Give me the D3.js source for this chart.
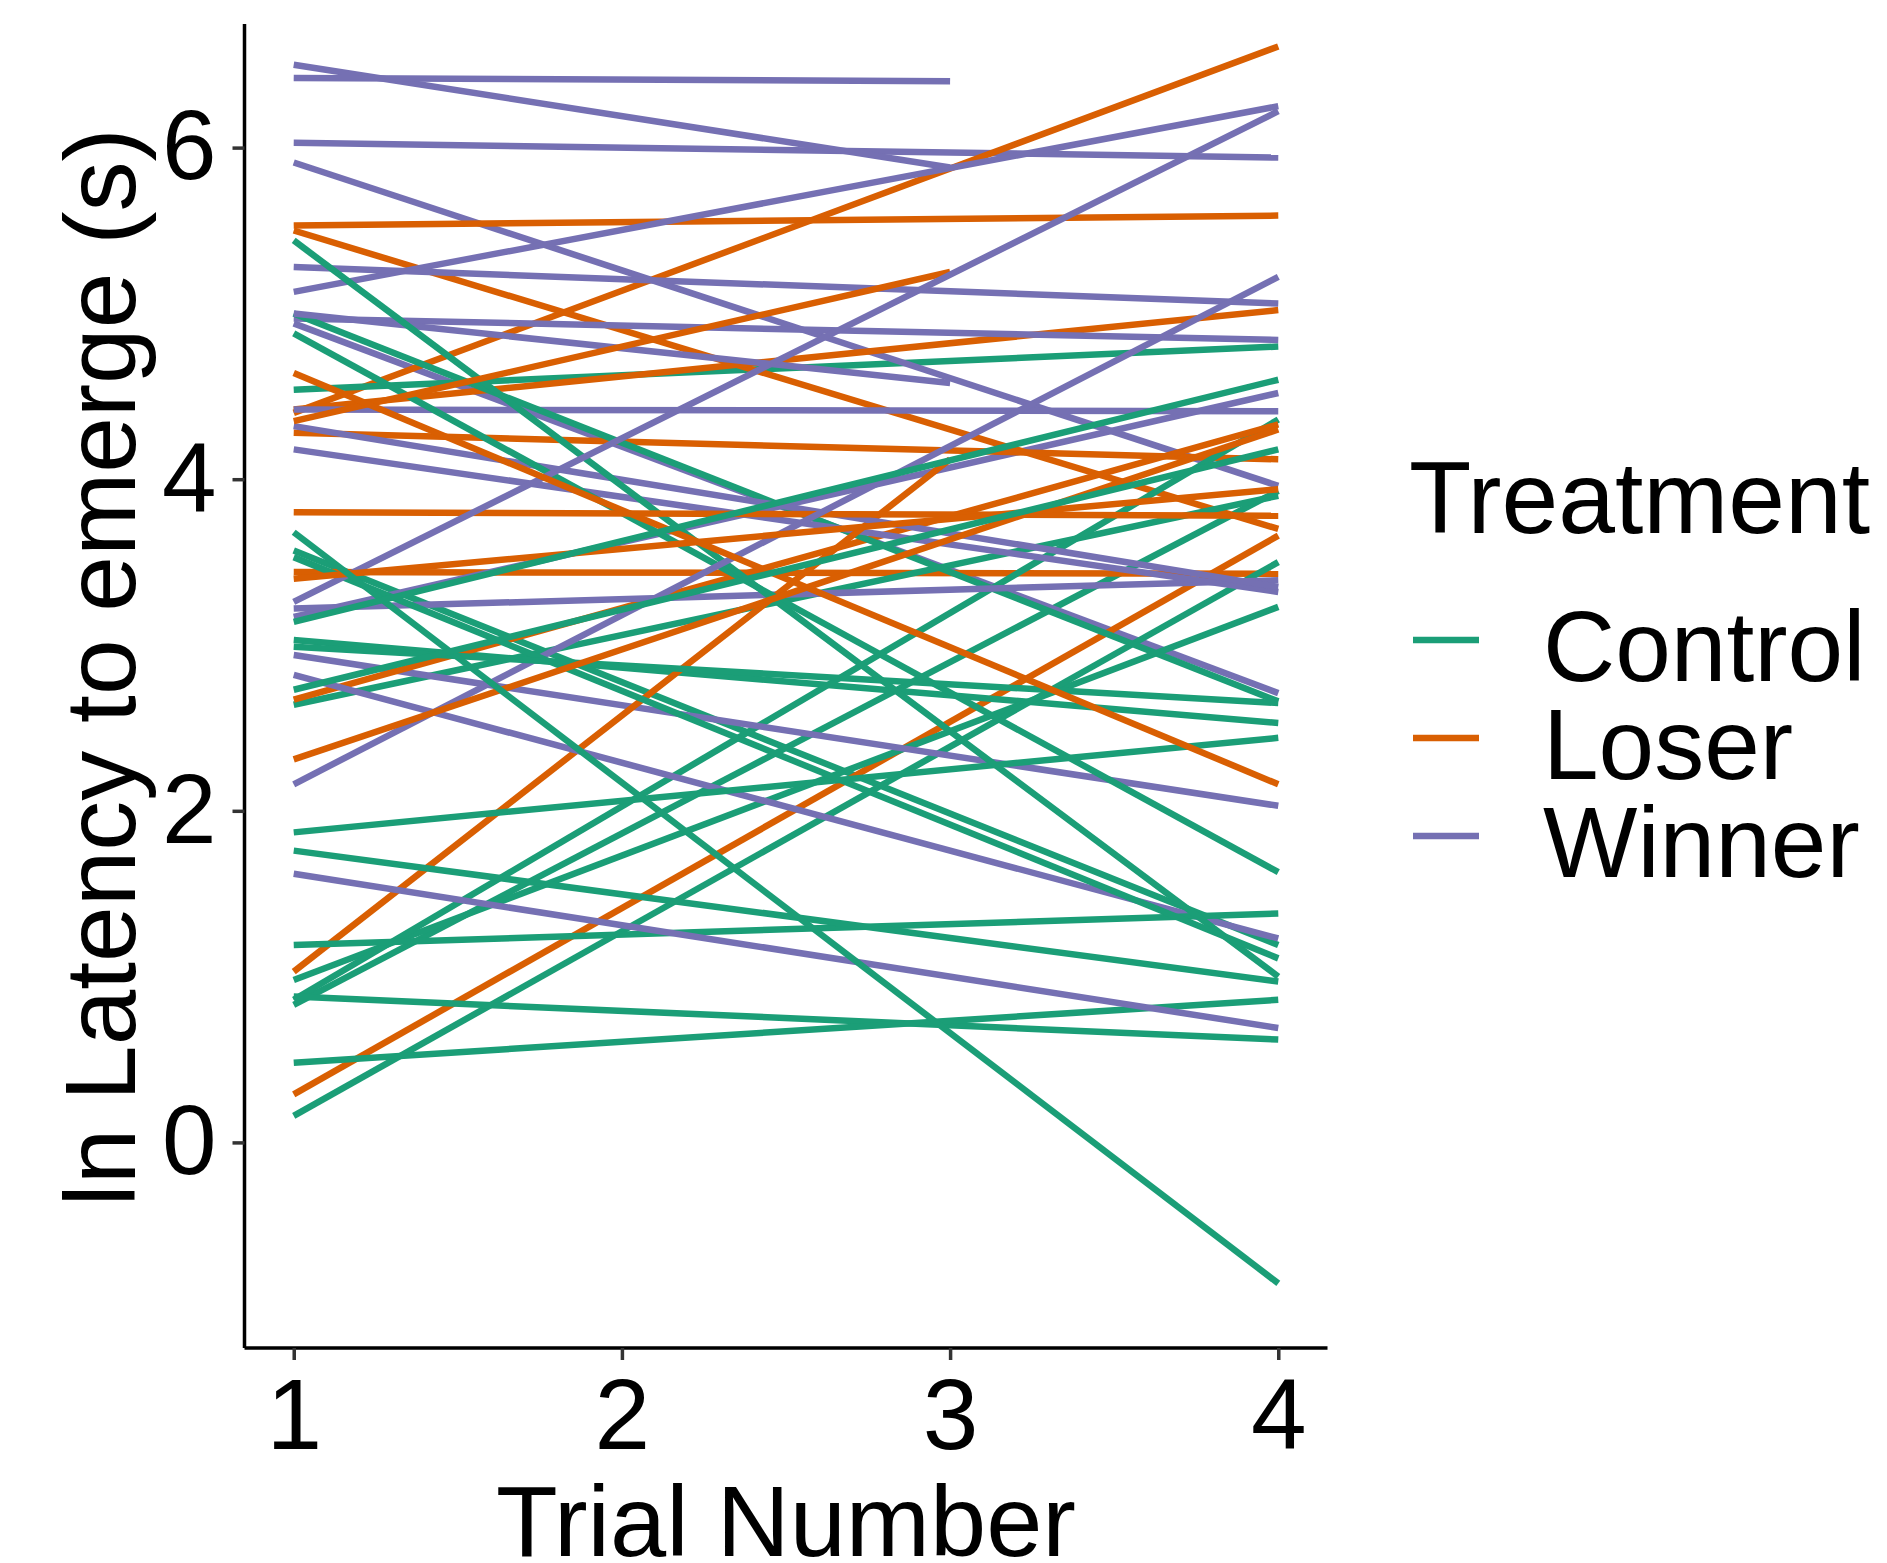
<!doctype html>
<html lang="en">
<head>
    <meta charset="UTF-8">
    <title>Latency to emerge by trial</title>
    <script src="https://d3js.org/d3.v7.min.js"></script>
    <style>
      body { margin: 0; background: #fff; }
      text { font-family: "Liberation Sans", Arial, sans-serif; }
    </style>
</head>
<body>
    <svg id="chart" width="1887" height="1563"></svg>

    <script>

      // Data: fitted line per individual, value at trial 1 and at its last trial
      const treatments = ["Control", "Loser", "Winner"];
      const xTicks = [1, 2, 3, 4];
      const yTicks = [0, 2, 4, 6];

      const controlStart = [5.44, 5.00, 4.88, 4.54, 3.68, 3.57, 3.53, 3.14, 3.03, 2.99, 2.73, 2.64, 1.87, 1.76, 1.19, 0.98, 0.88, 0.86, 0.83, 0.48, 0.16];
      const controlEnd   = [1.00, 2.66, 1.63, 4.80, -0.85, 1.19, 1.11, 4.60, 2.53, 2.65, 4.18, 3.90, 2.44, 0.97, 1.38, 3.23, 0.62, 4.36, 3.93, 0.86, 3.50];
      const controlLast  = [4, 4, 4, 4, 4, 4, 4, 4, 4, 4, 4, 4, 4, 4, 4, 4, 4, 4, 4, 4, 4];

      const loserStart = [5.53, 5.50, 4.64, 4.42, 4.40, 4.35, 4.28, 3.80, 3.44, 3.40, 2.67, 2.31, 1.03, 0.29];
      const loserEnd   = [5.59, 3.70, 2.16, 5.02, 6.61, 5.25, 4.12, 3.78, 3.43, 3.94, 4.33, 4.30, 4.12, 3.66];
      const loserLast  = [4, 4, 4, 4, 4, 3, 4, 4, 4, 4, 4, 4, 3, 4];

      const winnerStart = [6.50, 6.42, 6.03, 5.91, 5.28, 5.13, 5.00, 4.97, 4.94, 4.42, 4.32, 4.18, 3.26, 3.22, 3.17, 2.94, 2.82, 2.16, 1.62];
      const winnerEnd   = [5.88, 6.40, 5.94, 3.96, 5.06, 6.25, 4.58, 4.84, 2.71, 4.41, 3.35, 3.32, 6.22, 3.39, 4.52, 2.03, 1.23, 5.22, 0.69];
      const winnerLast  = [3, 3, 4, 4, 4, 4, 3, 4, 4, 4, 4, 4, 4, 4, 4, 4, 4, 4, 4];

      // one row per fitted line
      function rows(group, start, end, last) {
        return start.map((s, i) => ({ group: group, trial1: s, trialN: end[i], lastTrial: last[i] }));
      }
      const fits = [].concat(
        rows("Control", controlStart, controlEnd, controlLast),
        rows("Loser", loserStart, loserEnd, loserLast),
        rows("Winner", winnerStart, winnerEnd, winnerLast)
      );
      // mix draw order a bit, like the original
      fits.sort((a, b) => (a.trial1 * 7.3 % 1) - (b.trial1 * 7.3 % 1));

      const svg = d3.select("#chart");

      // Scales
      const left = 244.5, right = 1327.5, bottom = 1348;
      const x = d3.scaleLinear().domain([0.85, 4.15]).range([left, right]);
      const y = d3.scaleLinear().domain([-1.24, 6.97]).range([bottom, bottom - 8.21 * 165.8]);
      const colour = d3.scaleOrdinal().domain(treatments).range(["#1b9e77", "#d95f02", "#7570b3"]);

      // Lines
      const line = d3.line().x(d => x(d[0])).y(d => y(d[1]));
      svg.append("g")
        .selectAll("path")
        .data(fits)
        .join("path")
          .attr("d", d => line([[1, d.trial1], [d.lastTrial, d.trialN]]))
          .attr("fill", "none")
          .attr("stroke", d => colour(d.group))
          .attr("stroke-width", 6.5);

      // Y axis
      const yAxis = svg.append("g")
          .attr("transform", "translate(" + left + ",0)")
          .call(d3.axisLeft(y).tickValues(yTicks).tickSize(12).tickSizeOuter(0).tickPadding(16));
      yAxis.select(".domain").attr("stroke", "#000").attr("stroke-width", 3.5)
          .attr("d", "M0," + bottom + "V24");
      yAxis.selectAll(".tick line").attr("stroke", "#333").attr("stroke-width", 3.5);
      yAxis.selectAll(".tick text")
          .attr("fill", "#000")
          .style("font-size", "98px")
          .style("font-family", "'Liberation Sans', Arial, sans-serif");

      // X axis
      const xAxis = svg.append("g")
          .attr("transform", "translate(0," + bottom + ")")
          .call(d3.axisBottom(x).tickValues(xTicks).tickSize(12).tickSizeOuter(0).tickPadding(18).tickFormat(d3.format("d")));
      xAxis.select(".domain").attr("stroke", "#000").attr("stroke-width", 3.5)
          .attr("d", "M" + left + ",0H" + right);
      xAxis.selectAll(".tick line").attr("stroke", "#333").attr("stroke-width", 3.5);
      xAxis.selectAll(".tick text")
          .attr("fill", "#000")
          .style("font-size", "100px")
          .style("font-family", "'Liberation Sans', Arial, sans-serif");

      // Axis titles
      svg.append("text")
          .attr("x", (left + right) / 2)
          .attr("y", 1556)
          .attr("text-anchor", "middle")
          .style("font-size", "101px")
          .text("Trial Number");

      svg.append("text")
          .attr("transform", "translate(135," + ((y.range()[0] + y.range()[1]) / 2) + ") rotate(-90)")
          .attr("text-anchor", "middle")
          .style("font-size", "100px")
          .text("ln Latency to emerge (s)");

      // Legend
      const legend = svg.append("g").attr("transform", "translate(1409,0)");
      legend.append("text")
          .attr("x", 0)
          .attr("y", 533)
          .style("font-size", "102px")
          .text("Treatment");

      const keys = legend.selectAll("g.key")
        .data(treatments)
        .join("g")
          .attr("class", "key")
          .attr("transform", (d, i) => "translate(0," + (640 + i * 98) + ")");
      keys.append("line")
          .attr("x1", 4).attr("x2", 70)
          .attr("stroke", d => colour(d))
          .attr("stroke-width", 6.5);
      keys.append("text")
          .attr("x", 134)
          .attr("y", 41)
          .style("font-size", "100px")
          .text(d => d);

    </script>
</body>
</html>
